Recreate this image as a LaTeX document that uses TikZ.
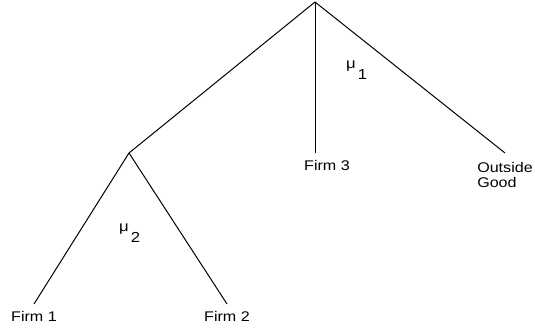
\documentclass[tikz,border=0pt]{standalone}
\usepackage{fontspec}
\setmainfont{Liberation Sans}[FakeStretch=1.15]
\usepackage{tikz}
\usetikzlibrary{positioning,calc}
\tikzset{
  % Leaf labels (line ends a little above the text)
  leaf/.style={inner sep=0pt,outer sep=7pt,anchor=north,align=left,
               font=\fontsize{14}{15}\selectfont},
  % Nest parameters
  nestlb/.style={inner sep=0pt,anchor=base west,font=\fontsize{14.5}{15}\selectfont},
  % Tree branches
  br/.style={draw=black,line width=1pt}
}
\newcommand{\nestpar}[1]{μ\hspace{2pt}\raisebox{-11pt}{#1}}

\begin{document}
\begin{tikzpicture}[x=1pt,y=-1pt]
  \useasboundingbox (0,0) rectangle (535,331);

  % --- Nodes ---
  \coordinate (root) at (315,2);
  \coordinate (nest) at (129,153);

  \node[leaf] (f1) at (34,304)  {Firm 1};
  \node[leaf] (f2) at (227,304) {Firm 2};
  \node[leaf] (f3) at (327,153) {Firm 3};
  \node[leaf,outer sep=9pt] (og) at (505,153) {Outside\\Good};

  \node[nestlb] (mu1) at (346,69)  {\nestpar{1}};
  \node[nestlb] (mu2) at (119,231) {\nestpar{2}};

  % --- Upper level ---
  \draw[br] (root) -- (nest);
  \draw[br] (root) -- (root |- f3.north);
  \draw[br] (root) -- (og.north);

  % --- Nest ---
  \draw[br] (nest) -- (f1.north);
  \draw[br] (nest) -- (f2.north);
\end{tikzpicture}
\end{document}
